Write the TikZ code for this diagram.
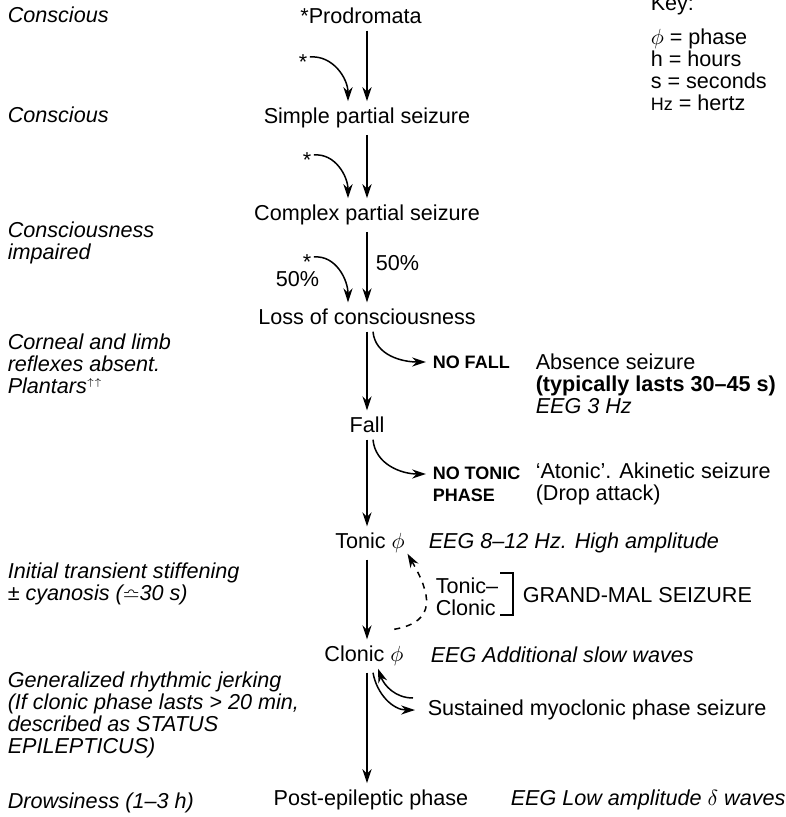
\documentclass[tikz,border=0pt]{standalone}
\usepackage{amsmath,amssymb}
\usepackage{fontspec}
\setmainfont{Liberation Sans}
\usetikzlibrary{arrows.meta}

\tikzset{
  stage/.style={font=\fontsize{10.8}{11}\selectfont, inner sep=3pt},
  note/.style={anchor=west, align=left, inner sep=0pt, font=\fontsize{10.8}{11}\selectfont\itshape},
  txt/.style={anchor=west, align=left, inner sep=0pt, font=\fontsize{10.8}{11}\selectfont},
  tag/.style={anchor=west, align=left, inner sep=0pt, font=\fontsize{9}{11}\selectfont\bfseries},
  starmark/.style={font=\fontsize{10.8}{11}\selectfont, inner sep=1pt},
  >={Stealth[length=7pt,width=4.6pt]}
}

\begin{document}
\begin{tikzpicture}[x=0.5pt, y=-0.5pt, line width=0.75pt]
  \useasboundingbox (0,0) rectangle (785,817);

  % left column
  \node[note] (c1) at (7,15) {Conscious};
  \node[note] (c2) at (7,115) {Conscious};
  \node[note] (c3) at (7,243) {Consciousness\\impaired};
  \node[note] (c4) at (7,364) {Corneal and limb\\reflexes absent.\\Plantars\smash{$^{\scriptscriptstyle\uparrow\uparrow}$}};
  \node[note] (c5) at (7,584) {Initial transient stiffening\\± cyanosis (\smash{$\bumpeq$}30 s)};
  \node[note] (c6) at (7,715) {Generalized rhythmic jerking\\(If clonic phase lasts > 20 min,\\described as STATUS\\EPILEPTICUS)};
  \node[note] (c7) at (7,803) {Drowsiness (1--3 h)};

  % main column
  \coordinate (spine) at (367,0);
  \node[stage] (prod) at (361,16) {*Prodromata};
  \node[stage] (simple) at (367,118) {Simple partial seizure};
  \node[stage] (complex) at (367,215) {Complex partial seizure};
  \node[stage] (loss) at (367,317) {Loss of consciousness};
  \node[stage] (fall) at (367,425) {Fall};
  \node[stage] (tonic) at (370,543) {Tonic $\phi$};
  \node[stage] (clonic) at (364,656) {Clonic $\phi$};
  \node[stage] (post) at (371,800) {Post-epileptic phase};

  \node[starmark] (s1) at (303,62) {*};
  \node[starmark] (s2) at (307,160) {*};
  \node[starmark] (s3) at (307,262) {*};
  \node[txt] (p1) at (275,279) {50\%};
  \node[txt] (p2) at (375,263) {50\%};

  % right column
  \node[tag] (nofall) at (432,362) {NO FALL};
  \node[txt] (absence) at (535,384) {Absence seizure\\\textbf{(typically lasts 30--45 s)}\\\textit{EEG 3 Hz}};
  \node[tag] (notonic) at (432,484) {NO TONIC\\PHASE};
  \node[txt] (atonic) at (535,484) {‘Atonic’. Akinetic seizure\\(Drop attack)};
  \node[note] (eegt) at (428,543) {EEG 8--12 Hz. High amplitude};
  \node[txt] (tc) at (435,597) {Tonic--\\Clonic};
  \node[txt] (grand) at (522,595) {GRAND-MAL SEIZURE};
  \node[note] (eegc) at (430,655) {EEG Additional slow waves};
  \node[txt] (sust) at (427,710) {Sustained myoclonic phase seizure};
  \node[note] (eegp) at (510,800) {EEG Low amplitude $\delta$ waves};

  % key
  \node[txt] (key) at (650,5) {Key:};
  \node[txt] (keys) at (650,70) {$\phi$ = phase\\h = hours\\s = seconds\\{\small Hz} = hertz};

  % arrows
  \draw[->] (prod.south -| spine) -- (simple);
  \draw[->] (simple) -- (complex);
  \draw[->] (complex) -- (loss);
  \draw[->] (loss) -- (fall);
  \draw[->] (fall.south -| spine) -- (tonic.north -| spine);
  \draw[->] (tonic.south -| spine) -- (clonic.north -| spine);
  \draw[->] (clonic.south -| spine) -- (post.north -| spine);

  \draw[->] ([yshift=2.5pt]s1.east) to[out=5,in=90] ([xshift=-9.5pt]simple.north);
  \draw[->] ([yshift=2.5pt]s2.east) to[out=5,in=90] ([xshift=-9.5pt]complex.north);
  \draw[->] ([yshift=2.5pt]s3.east) to[out=5,in=90] ([xshift=-9.5pt]loss.north);

  \draw[->] ([xshift=3pt]loss.south) to[out=-85,in=180] ([xshift=-3pt]nofall.west);
  \draw[->] ([xshift=3pt]fall.south) to[out=-85,in=180] ([xshift=-3pt,yshift=5pt]notonic.west);

  \draw[->, dashed] ([shift={(-8pt,5pt)}]clonic.north east) to[out=10,in=-60,looseness=1.5] ([shift={(-2pt,3pt)}]tonic.south east);
  \draw (500,573) -- (513,573) -- (513,615) -- (500,615);

  \draw[->] ([shift={(-7pt,6pt)}]sust.west) to[out=180,in=-70] ([shift={(7pt,2pt)}]clonic.south);
  \draw[->] ([xshift=4.5pt]clonic.south) to[out=-80,in=180] ([xshift=-6pt]sust.west);
\end{tikzpicture}
\end{document}
